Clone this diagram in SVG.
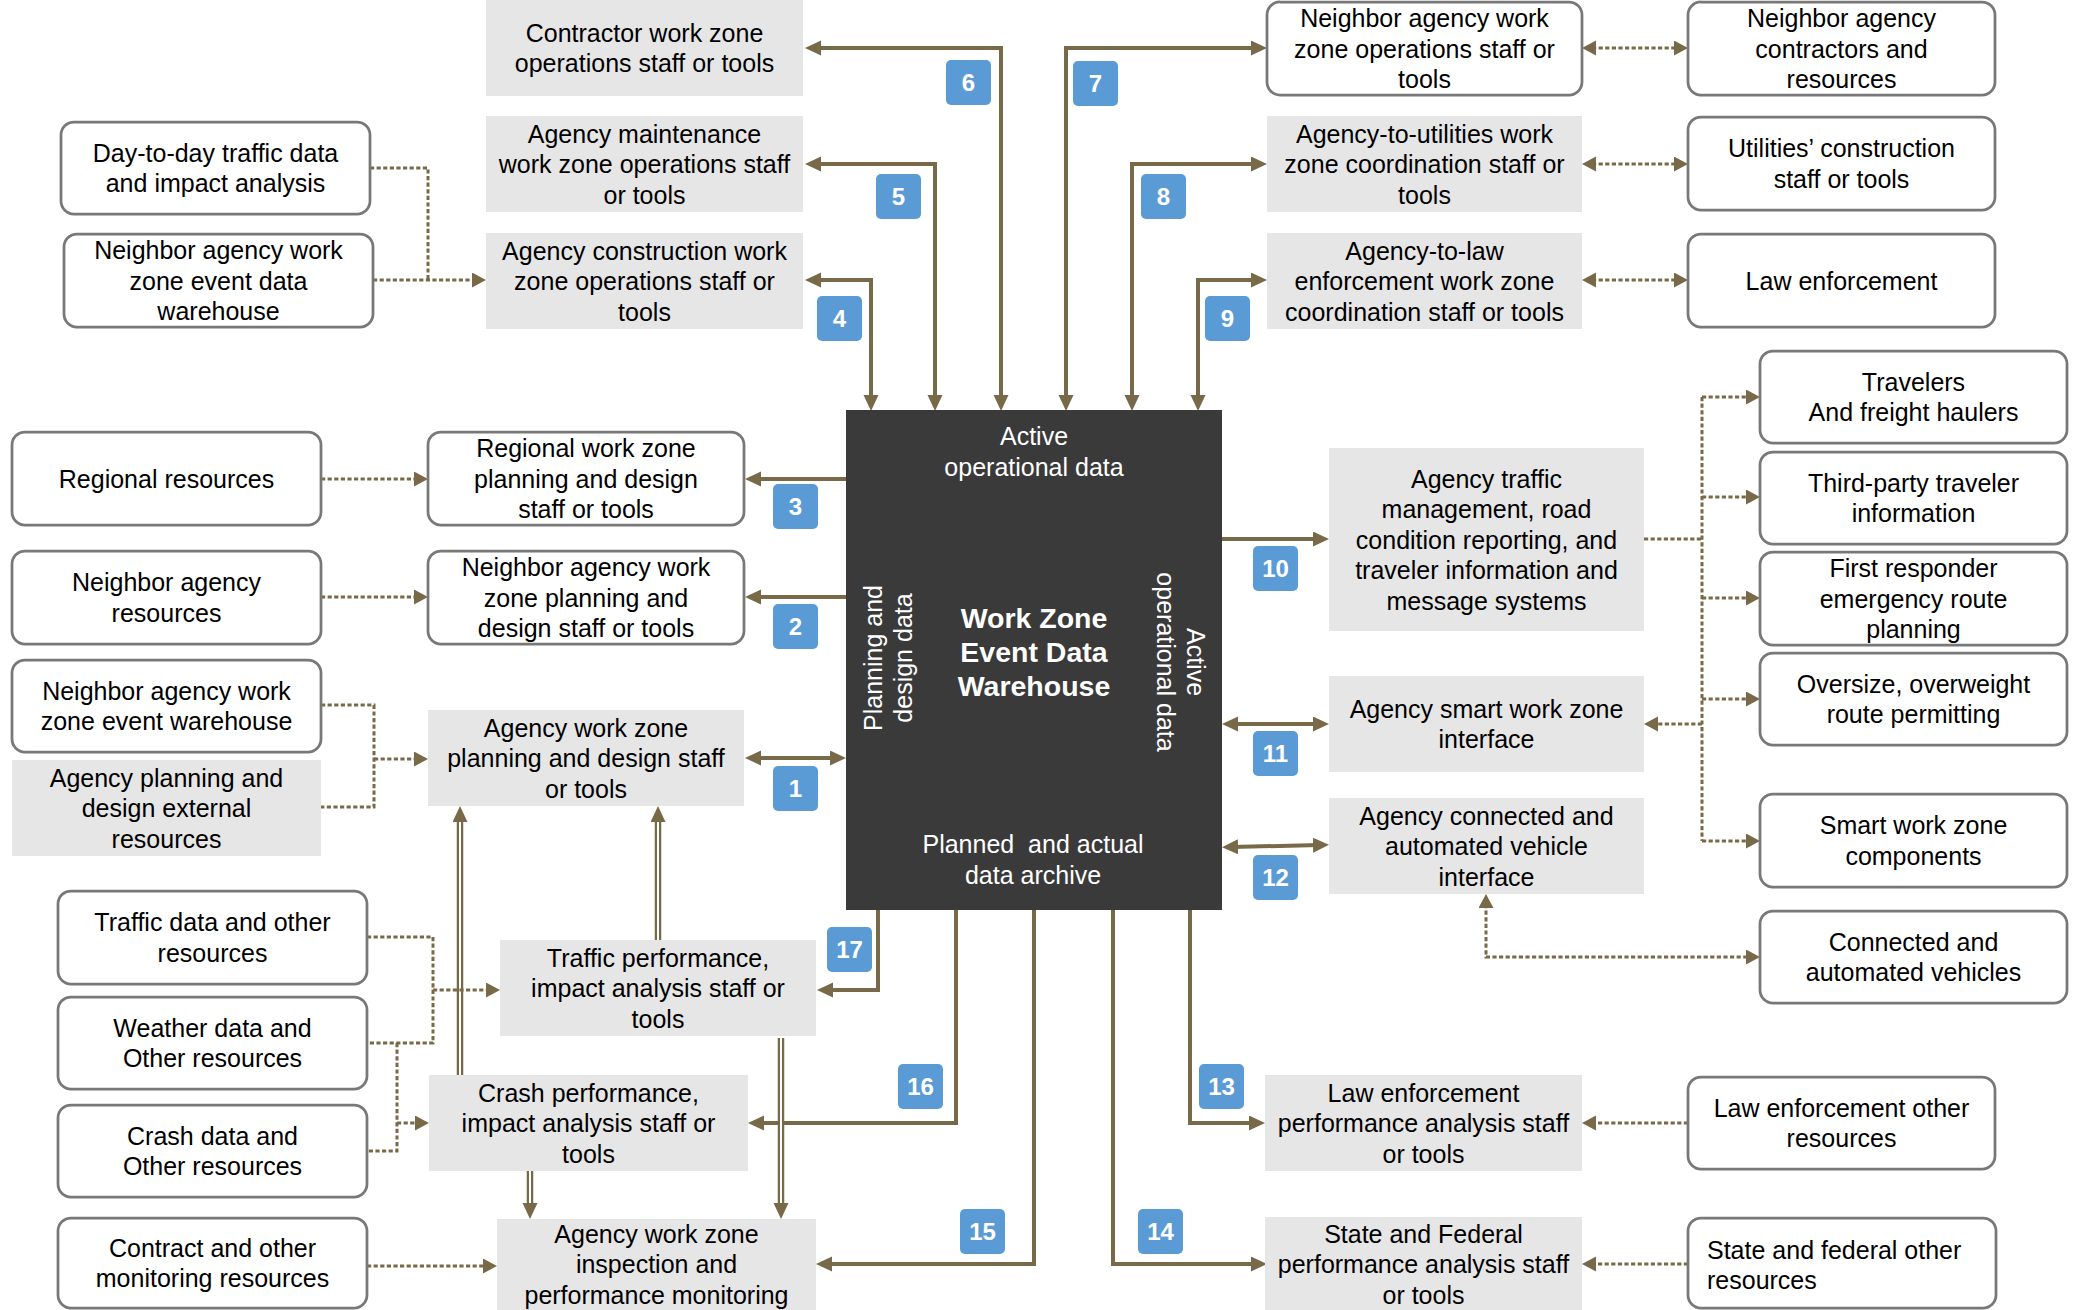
<svg xmlns="http://www.w3.org/2000/svg" width="2074" height="1310" viewBox="0 0 2074 1310">
  <style>
    .bw { fill: #ffffff; stroke: #787878; stroke-width: 2.75; }
    .bg { fill: #e6e6e6; }
    .t { font-family: "Liberation Sans", Arial, sans-serif; font-size: 25px; fill: #000000; text-anchor: middle; }
    .tl { text-anchor: start; }
    .core { fill: #3a3a3a; }
    .ct { font-family: "Liberation Sans", Arial, sans-serif; font-size: 25px; fill: #ffffff; text-anchor: middle; white-space: pre; }
    .ctb { font-weight: bold; font-size: 28.5px; }
    .badge rect { fill: #5b9bd5; }
    .badge text { font-family: "Liberation Sans", Arial, sans-serif; font-size: 24px; font-weight: bold; fill: #ffffff; text-anchor: middle; }
    .flow { fill: none; stroke: #786a48; stroke-width: 4; }
    .dot { fill: none; stroke: #786a48; stroke-width: 3; stroke-dasharray: 4.2 2.4; }
    .dbl { fill: none; stroke: #786a48; stroke-width: 6.5; }
    .dbl-in { fill: none; stroke: #ffffff; stroke-width: 2; }
  </style>
  <defs>
    <marker id="ah" markerUnits="userSpaceOnUse" markerWidth="16" markerHeight="16" refX="6" refY="7.5" orient="auto-start-reverse" viewBox="0 0 16 16">
      <path d="M0,0 L16,7.5 L0,15 Z" fill="#786a48"/>
    </marker>
    <marker id="ahd" markerUnits="userSpaceOnUse" markerWidth="16" markerHeight="16" refX="4" refY="7.5" orient="auto-start-reverse" viewBox="0 0 16 16">
      <path d="M0,0 L14,7.5 L0,15 Z" fill="#786a48"/>
    </marker>
  </defs>

  <rect width="2074" height="1310" fill="#ffffff"/>

  <!-- connectors -->
  <g id="connectors">
    <!-- solid flows to and from the warehouse -->
    <path class="flow" d="M815 280 H871 V401" marker-start="url(#ah)" marker-end="url(#ah)"/>
    <path class="flow" d="M815 164 H935 V401" marker-start="url(#ah)" marker-end="url(#ah)"/>
    <path class="flow" d="M815 48 H1001 V401" marker-start="url(#ah)" marker-end="url(#ah)"/>
    <path class="flow" d="M1066 401 V48 H1257" marker-start="url(#ah)" marker-end="url(#ah)"/>
    <path class="flow" d="M1132 401 V164 H1257" marker-start="url(#ah)" marker-end="url(#ah)"/>
    <path class="flow" d="M1198 401 V280 H1257" marker-start="url(#ah)" marker-end="url(#ah)"/>

    <path class="flow" d="M846 479 H755" marker-end="url(#ah)"/>
    <path class="flow" d="M846 597 H755" marker-end="url(#ah)"/>
    <path class="flow" d="M755 758 H836" marker-start="url(#ah)" marker-end="url(#ah)"/>

    <path class="flow" d="M1222 539 H1319" marker-end="url(#ah)"/>
    <path class="flow" d="M1232 724 H1319" marker-start="url(#ah)" marker-end="url(#ah)"/>
    <path class="flow" d="M1232 847 L1319 845" marker-start="url(#ah)" marker-end="url(#ah)"/>

    <path class="flow" d="M878 910 V990 H827" marker-end="url(#ah)"/>
    <path class="flow" d="M956 910 V1123 H758" marker-end="url(#ah)"/>
    <path class="flow" d="M1034 910 V1264 H826" marker-end="url(#ah)"/>
    <path class="flow" d="M1113 910 V1264 H1257" marker-end="url(#ah)"/>
    <path class="flow" d="M1190 910 V1123 H1255" marker-end="url(#ah)"/>

    <!-- hollow (double) flows between analysis boxes -->
    <path class="dbl" d="M460 1075 V816" marker-end="url(#ah)"/>
    <path class="dbl-in" d="M460 1075 V822"/>
    <path class="dbl" d="M658 942 V816" marker-end="url(#ah)"/>
    <path class="dbl-in" d="M658 942 V822"/>
    <path class="dbl" d="M530 1171 V1209" marker-end="url(#ah)"/>
    <path class="dbl-in" d="M530 1171 V1203"/>
    <path class="dbl" d="M781 1038 V1209" marker-end="url(#ah)"/>
    <path class="dbl-in" d="M781 1038 V1203"/>

    <!-- dotted resource links -->
    <path class="dot" d="M370 168 H428 V280"/>
    <path class="dot" d="M373 280 H476" marker-end="url(#ahd)"/>
    <path class="dot" d="M321 479 H418" marker-end="url(#ahd)"/>
    <path class="dot" d="M321 597 H418" marker-end="url(#ahd)"/>
    <path class="dot" d="M321 705 H374 V807 H321"/>
    <path class="dot" d="M374 759 H418" marker-end="url(#ahd)"/>

    <path class="dot" d="M367 937 H433 V1043 H367"/>
    <path class="dot" d="M433 990 H490" marker-end="url(#ahd)"/>
    <path class="dot" d="M397 1043 V1151 H367"/>
    <path class="dot" d="M397 1123 H419" marker-end="url(#ahd)"/>
    <path class="dot" d="M367 1266 H487" marker-end="url(#ahd)"/>

    <path class="dot" d="M1592 48 H1678" marker-start="url(#ahd)" marker-end="url(#ahd)"/>
    <path class="dot" d="M1592 164 H1678" marker-start="url(#ahd)" marker-end="url(#ahd)"/>
    <path class="dot" d="M1592 280 H1678" marker-start="url(#ahd)" marker-end="url(#ahd)"/>

    <path class="dot" d="M1644 539 H1702"/>
    <path class="dot" d="M1702 397 V841"/>
    <path class="dot" d="M1702 397 H1750" marker-end="url(#ahd)"/>
    <path class="dot" d="M1702 497 H1750" marker-end="url(#ahd)"/>
    <path class="dot" d="M1702 598 H1750" marker-end="url(#ahd)"/>
    <path class="dot" d="M1702 699 H1750" marker-end="url(#ahd)"/>
    <path class="dot" d="M1702 841 H1750" marker-end="url(#ahd)"/>
    <path class="dot" d="M1702 724 H1654" marker-end="url(#ahd)"/>
    <path class="dot" d="M1486 904 V957 H1750" marker-start="url(#ahd)" marker-end="url(#ahd)"/>

    <path class="dot" d="M1688 1123 H1592" marker-end="url(#ahd)"/>
    <path class="dot" d="M1688 1264 H1592" marker-end="url(#ahd)"/>
  </g>

  <!-- central warehouse -->
  <g id="warehouse">
    <rect class="core" x="846" y="410" width="376" height="500"/>
    <text class="ct" x="1034" y="445">Active</text>
    <text class="ct" x="1034" y="476">operational data</text>
    <text class="ct ctb" x="1034" y="628">Work Zone</text>
    <text class="ct ctb" x="1034" y="662">Event Data</text>
    <text class="ct ctb" x="1034" y="696">Warehouse</text>
    <text class="ct" transform="translate(882 658) rotate(-90)">Planning and</text>
    <text class="ct" transform="translate(912 658) rotate(-90)">design data</text>
    <text class="ct" transform="translate(1187 662) rotate(90)">Active</text>
    <text class="ct" transform="translate(1156.5 662) rotate(90)">operational data</text>
    <text class="ct" x="1033" y="853">Planned  and actual</text>
    <text class="ct" x="1033" y="884">data archive</text>
  </g>

  <!-- operations boxes (top) -->
  <g id="contractor-ops">
    <rect class="bg" x="486" y="0" width="317" height="96"/>
    <text class="t" x="644.5" y="41.75">Contractor work zone</text>
    <text class="t" x="644.5" y="72.25">operations staff or tools</text>
  </g>
  <g id="maintenance-ops">
    <rect class="bg" x="486" y="116" width="317" height="96"/>
    <text class="t" x="644.5" y="142.5">Agency maintenance</text>
    <text class="t" x="644.5" y="173">work zone operations staff</text>
    <text class="t" x="644.5" y="203.5">or tools</text>
  </g>
  <g id="construction-ops">
    <rect class="bg" x="486" y="233" width="317" height="96"/>
    <text class="t" x="644.5" y="259.5">Agency construction work</text>
    <text class="t" x="644.5" y="290">zone operations staff or</text>
    <text class="t" x="644.5" y="320.5">tools</text>
  </g>
  <g id="day-to-day">
    <rect class="bw" x="61" y="122" width="309" height="92" rx="13"/>
    <text class="t" x="215.5" y="161.75">Day-to-day traffic data</text>
    <text class="t" x="215.5" y="192.25">and impact analysis</text>
  </g>
  <g id="neighbor-event-dw">
    <rect class="bw" x="64" y="234" width="309" height="93" rx="13"/>
    <text class="t" x="218.5" y="259">Neighbor agency work</text>
    <text class="t" x="218.5" y="289.5">zone event data</text>
    <text class="t" x="218.5" y="320">warehouse</text>
  </g>
  <g id="neighbor-ops">
    <rect class="bw" x="1267" y="2" width="315" height="93" rx="13"/>
    <text class="t" x="1424.5" y="27">Neighbor agency work</text>
    <text class="t" x="1424.5" y="57.5">zone operations staff or</text>
    <text class="t" x="1424.5" y="88">tools</text>
  </g>
  <g id="neighbor-contractors">
    <rect class="bw" x="1688" y="2" width="307" height="93" rx="13"/>
    <text class="t" x="1841.5" y="27">Neighbor agency</text>
    <text class="t" x="1841.5" y="57.5">contractors and</text>
    <text class="t" x="1841.5" y="88">resources</text>
  </g>
  <g id="utilities-coord">
    <rect class="bg" x="1267" y="116" width="315" height="96"/>
    <text class="t" x="1424.5" y="142.5">Agency-to-utilities work</text>
    <text class="t" x="1424.5" y="173">zone coordination staff or</text>
    <text class="t" x="1424.5" y="203.5">tools</text>
  </g>
  <g id="utilities-staff">
    <rect class="bw" x="1688" y="117" width="307" height="93" rx="13"/>
    <text class="t" x="1841.5" y="157.25">Utilities’ construction</text>
    <text class="t" x="1841.5" y="187.75">staff or tools</text>
  </g>
  <g id="law-coord">
    <rect class="bg" x="1267" y="233" width="315" height="96"/>
    <text class="t" x="1424.5" y="259.5">Agency-to-law</text>
    <text class="t" x="1424.5" y="290">enforcement work zone</text>
    <text class="t" x="1424.5" y="320.5">coordination staff or tools</text>
  </g>
  <g id="law-enforcement">
    <rect class="bw" x="1688" y="234" width="307" height="93" rx="13"/>
    <text class="t" x="1841.5" y="289.5">Law enforcement</text>
  </g>

  <!-- planning boxes (left) -->
  <g id="regional-resources">
    <rect class="bw" x="12" y="432" width="309" height="93" rx="13"/>
    <text class="t" x="166.5" y="487.5">Regional resources</text>
  </g>
  <g id="regional-planning">
    <rect class="bw" x="428" y="432" width="316" height="93" rx="13"/>
    <text class="t" x="586" y="457">Regional work zone</text>
    <text class="t" x="586" y="487.5">planning and design</text>
    <text class="t" x="586" y="518">staff or tools</text>
  </g>
  <g id="neighbor-resources">
    <rect class="bw" x="12" y="551" width="309" height="93" rx="13"/>
    <text class="t" x="166.5" y="591.25">Neighbor agency</text>
    <text class="t" x="166.5" y="621.75">resources</text>
  </g>
  <g id="neighbor-planning">
    <rect class="bw" x="428" y="551" width="316" height="93" rx="13"/>
    <text class="t" x="586" y="576">Neighbor agency work</text>
    <text class="t" x="586" y="606.5">zone planning and</text>
    <text class="t" x="586" y="637">design staff or tools</text>
  </g>
  <g id="neighbor-event-wh">
    <rect class="bw" x="12" y="660" width="309" height="92" rx="13"/>
    <text class="t" x="166.5" y="699.75">Neighbor agency work</text>
    <text class="t" x="166.5" y="730.25">zone event warehouse</text>
  </g>
  <g id="planning-external">
    <rect class="bg" x="12" y="760" width="309" height="96"/>
    <text class="t" x="166.5" y="786.5">Agency planning and</text>
    <text class="t" x="166.5" y="817">design external</text>
    <text class="t" x="166.5" y="847.5">resources</text>
  </g>
  <g id="agency-planning">
    <rect class="bg" x="428" y="710" width="316" height="96"/>
    <text class="t" x="586" y="736.5">Agency work zone</text>
    <text class="t" x="586" y="767">planning and design staff</text>
    <text class="t" x="586" y="797.5">or tools</text>
  </g>

  <!-- traveler / interface boxes (right) -->
  <g id="traffic-management">
    <rect class="bg" x="1329" y="448" width="315" height="183"/>
    <text class="t" x="1486.5" y="487.5">Agency traffic</text>
    <text class="t" x="1486.5" y="518">management, road</text>
    <text class="t" x="1486.5" y="548.5">condition reporting, and</text>
    <text class="t" x="1486.5" y="579">traveler information and</text>
    <text class="t" x="1486.5" y="609.5">message systems</text>
  </g>
  <g id="smart-wz-interface">
    <rect class="bg" x="1329" y="676" width="315" height="96"/>
    <text class="t" x="1486.5" y="717.75">Agency smart work zone</text>
    <text class="t" x="1486.5" y="748.25">interface</text>
  </g>
  <g id="cav-interface">
    <rect class="bg" x="1329" y="798" width="315" height="96"/>
    <text class="t" x="1486.5" y="824.5">Agency connected and</text>
    <text class="t" x="1486.5" y="855">automated vehicle</text>
    <text class="t" x="1486.5" y="885.5">interface</text>
  </g>
  <g id="travelers">
    <rect class="bw" x="1760" y="351" width="307" height="92" rx="13"/>
    <text class="t" x="1913.5" y="390.75">Travelers</text>
    <text class="t" x="1913.5" y="421.25">And freight haulers</text>
  </g>
  <g id="third-party">
    <rect class="bw" x="1760" y="452" width="307" height="92" rx="13"/>
    <text class="t" x="1913.5" y="491.75">Third-party traveler</text>
    <text class="t" x="1913.5" y="522.25">information</text>
  </g>
  <g id="first-responder">
    <rect class="bw" x="1760" y="552" width="307" height="93" rx="13"/>
    <text class="t" x="1913.5" y="577">First responder</text>
    <text class="t" x="1913.5" y="607.5">emergency route</text>
    <text class="t" x="1913.5" y="638">planning</text>
  </g>
  <g id="oversize">
    <rect class="bw" x="1760" y="653" width="307" height="92" rx="13"/>
    <text class="t" x="1913.5" y="692.75">Oversize, overweight</text>
    <text class="t" x="1913.5" y="723.25">route permitting</text>
  </g>
  <g id="smart-wz-components">
    <rect class="bw" x="1760" y="794" width="307" height="93" rx="13"/>
    <text class="t" x="1913.5" y="834.25">Smart work zone</text>
    <text class="t" x="1913.5" y="864.75">components</text>
  </g>
  <g id="cav">
    <rect class="bw" x="1760" y="911" width="307" height="92" rx="13"/>
    <text class="t" x="1913.5" y="950.75">Connected and</text>
    <text class="t" x="1913.5" y="981.25">automated vehicles</text>
  </g>

  <!-- performance boxes (bottom) -->
  <g id="traffic-data">
    <rect class="bw" x="58" y="891" width="309" height="93" rx="13"/>
    <text class="t" x="212.5" y="931.25">Traffic data and other</text>
    <text class="t" x="212.5" y="961.75">resources</text>
  </g>
  <g id="weather-data">
    <rect class="bw" x="58" y="997" width="309" height="92" rx="13"/>
    <text class="t" x="212.5" y="1036.75">Weather data and</text>
    <text class="t" x="212.5" y="1067.25">Other resources</text>
  </g>
  <g id="crash-data">
    <rect class="bw" x="58" y="1105" width="309" height="92" rx="13"/>
    <text class="t" x="212.5" y="1144.75">Crash data and</text>
    <text class="t" x="212.5" y="1175.25">Other resources</text>
  </g>
  <g id="contract-data">
    <rect class="bw" x="58" y="1218" width="309" height="90" rx="13"/>
    <text class="t" x="212.5" y="1256.75">Contract and other</text>
    <text class="t" x="212.5" y="1287.25">monitoring resources</text>
  </g>
  <g id="traffic-performance">
    <rect class="bg" x="500" y="940" width="316" height="96"/>
    <text class="t" x="658" y="966.5">Traffic performance,</text>
    <text class="t" x="658" y="997">impact analysis staff or</text>
    <text class="t" x="658" y="1027.5">tools</text>
  </g>
  <g id="crash-performance">
    <rect class="bg" x="429" y="1075" width="319" height="96"/>
    <text class="t" x="588.5" y="1101.5">Crash performance,</text>
    <text class="t" x="588.5" y="1132">impact analysis staff or</text>
    <text class="t" x="588.5" y="1162.5">tools</text>
  </g>
  <g id="inspection">
    <rect class="bg" x="497" y="1219" width="319" height="96"/>
    <text class="t" x="656.5" y="1242.5">Agency work zone</text>
    <text class="t" x="656.5" y="1273">inspection and</text>
    <text class="t" x="656.5" y="1303.5">performance monitoring</text>
  </g>
  <g id="law-performance">
    <rect class="bg" x="1265" y="1075" width="317" height="96"/>
    <text class="t" x="1423.5" y="1101.5">Law enforcement</text>
    <text class="t" x="1423.5" y="1132">performance analysis staff</text>
    <text class="t" x="1423.5" y="1162.5">or tools</text>
  </g>
  <g id="state-federal-performance">
    <rect class="bg" x="1265" y="1217" width="317" height="98"/>
    <text class="t" x="1423.5" y="1242.5">State and Federal</text>
    <text class="t" x="1423.5" y="1273">performance analysis staff</text>
    <text class="t" x="1423.5" y="1303.5">or tools</text>
  </g>
  <g id="law-other">
    <rect class="bw" x="1688" y="1077" width="307" height="92" rx="13"/>
    <text class="t" x="1841.5" y="1116.75">Law enforcement other</text>
    <text class="t" x="1841.5" y="1147.25">resources</text>
  </g>
  <g id="state-federal-other">
    <rect class="bw" x="1688" y="1218" width="308" height="90" rx="13"/>
    <text class="t tl" x="1707" y="1259">State and federal other</text>
    <text class="t tl" x="1707" y="1289">resources</text>
  </g>

  <!-- numbered flow badges -->
  <g id="badges" class="badge">
    <g id="b1"><rect x="773" y="766" width="45" height="45" rx="5"/><text x="795.5" y="797">1</text></g>
    <g id="b2"><rect x="773" y="604" width="45" height="45" rx="5"/><text x="795.5" y="635">2</text></g>
    <g id="b3"><rect x="773" y="484" width="45" height="45" rx="5"/><text x="795.5" y="515">3</text></g>
    <g id="b4"><rect x="817" y="296" width="45" height="45" rx="5"/><text x="839.5" y="327">4</text></g>
    <g id="b5"><rect x="876" y="174" width="45" height="45" rx="5"/><text x="898.5" y="205">5</text></g>
    <g id="b6"><rect x="946" y="60" width="45" height="45" rx="5"/><text x="968.5" y="91">6</text></g>
    <g id="b7"><rect x="1073" y="61" width="45" height="45" rx="5"/><text x="1095.5" y="92">7</text></g>
    <g id="b8"><rect x="1141" y="174" width="45" height="45" rx="5"/><text x="1163.5" y="205">8</text></g>
    <g id="b9"><rect x="1205" y="296" width="45" height="45" rx="5"/><text x="1227.5" y="327">9</text></g>
    <g id="b10"><rect x="1253" y="546" width="45" height="45" rx="5"/><text x="1275.5" y="577">10</text></g>
    <g id="b11"><rect x="1253" y="731" width="45" height="45" rx="5"/><text x="1275.5" y="762">11</text></g>
    <g id="b12"><rect x="1253" y="855" width="45" height="45" rx="5"/><text x="1275.5" y="886">12</text></g>
    <g id="b13"><rect x="1199" y="1064" width="45" height="45" rx="5"/><text x="1221.5" y="1095">13</text></g>
    <g id="b14"><rect x="1138" y="1209" width="45" height="45" rx="5"/><text x="1160.5" y="1240">14</text></g>
    <g id="b15"><rect x="960" y="1209" width="45" height="45" rx="5"/><text x="982.5" y="1240">15</text></g>
    <g id="b16"><rect x="898" y="1064" width="45" height="45" rx="5"/><text x="920.5" y="1095">16</text></g>
    <g id="b17"><rect x="827" y="927" width="45" height="45" rx="5"/><text x="849.5" y="958">17</text></g>
  </g>
</svg>
